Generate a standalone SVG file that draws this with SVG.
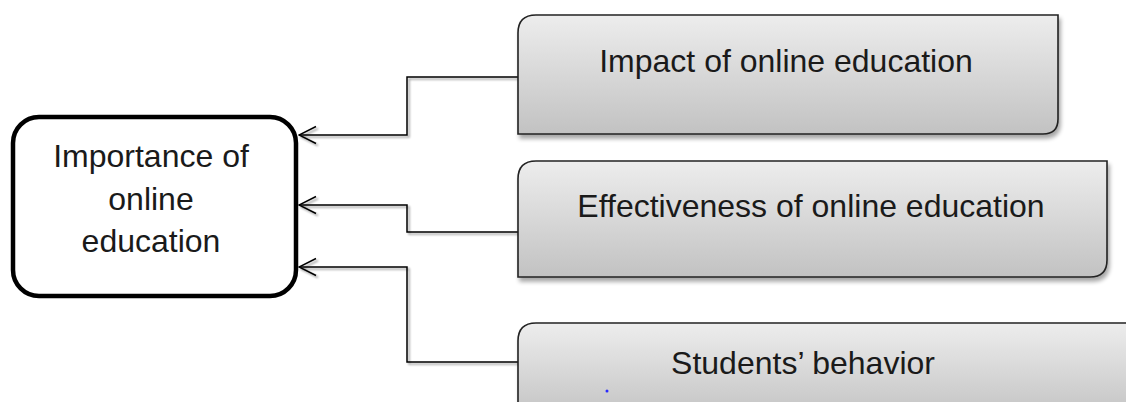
<svg xmlns="http://www.w3.org/2000/svg" width="1126" height="402" viewBox="0 0 1126 402">
<defs>
<linearGradient id="g" x1="0" y1="0" x2="0" y2="1">
<stop offset="0" stop-color="#ededed"/>
<stop offset="1" stop-color="#c2c2c2"/>
</linearGradient>
<filter id="sh" x="-5%" y="-10%" width="115%" height="130%">
<feGaussianBlur in="SourceAlpha" stdDeviation="2"/>
<feOffset dx="2" dy="4"/>
<feComponentTransfer><feFuncA type="linear" slope="0.35"/></feComponentTransfer>
<feMerge><feMergeNode/><feMergeNode in="SourceGraphic"/></feMerge>
</filter>
<filter id="lsh" x="-5%" y="-5%" width="110%" height="110%">
<feOffset in="SourceAlpha" dx="1.5" dy="1.5"/>
<feGaussianBlur stdDeviation="1"/>
<feComponentTransfer><feFuncA type="linear" slope="0.4"/></feComponentTransfer>
<feMerge><feMergeNode/><feMergeNode in="SourceGraphic"/></feMerge>
</filter>
<marker id="arr" viewBox="0 0 20 20" refX="19" refY="10" markerWidth="20" markerHeight="20" markerUnits="userSpaceOnUse" orient="auto">
<path d="M2 1.5 L19 10 L2 18.5" fill="none" stroke="#000" stroke-width="1.5"/>
</marker>
<style>
.t{font-family:"Liberation Sans",Arial,sans-serif;font-size:32px;fill:#1a1a1a;text-anchor:middle}
.b{fill:url(#g);stroke:#222;stroke-width:1.6;filter:url(#sh)}
.c{fill:none;stroke:#000;stroke-width:1.5;marker-end:url(#arr)}
</style>
</defs>
<rect width="1126" height="402" fill="#fff"/>
<g id="connectors" filter="url(#lsh)">
<path class="c" d="M518 77 H407 V135 H299"/>
<path class="c" d="M518 232 H407 V205 H299"/>
<path class="c" d="M518 362 H407 V267 H299"/>
</g>
<g id="node-importance">
<rect x="13" y="117" width="283" height="179" rx="26" ry="26" fill="#fff" stroke="#000" stroke-width="4.5"/>
<text class="t" x="151" y="167">Importance of</text>
<text class="t" x="151" y="210">online</text>
<text class="t" x="151" y="252">education</text>
</g>
<g id="node-impact">
<path class="b" d="M536 15 H1058 V119 Q1058 134 1043 134 H518 V33 Q518 15 536 15 Z"/>
<text class="t" x="786" y="72">Impact of online education</text>
</g>
<g id="node-effectiveness">
<path class="b" d="M536 161 H1107 V260 Q1107 277 1090 277 H518 V179 Q518 161 536 161 Z"/>
<text class="t" x="811" y="217">Effectiveness of online education</text>
</g>
<g id="node-students">
<path class="b" d="M536 323 H1140 V420 H518 V341 Q518 323 536 323 Z"/>
<text class="t" x="803" y="374">Students’ behavior</text>
<circle cx="607" cy="391" r="1.5" fill="#2a2aff"/>
</g>
</svg>
